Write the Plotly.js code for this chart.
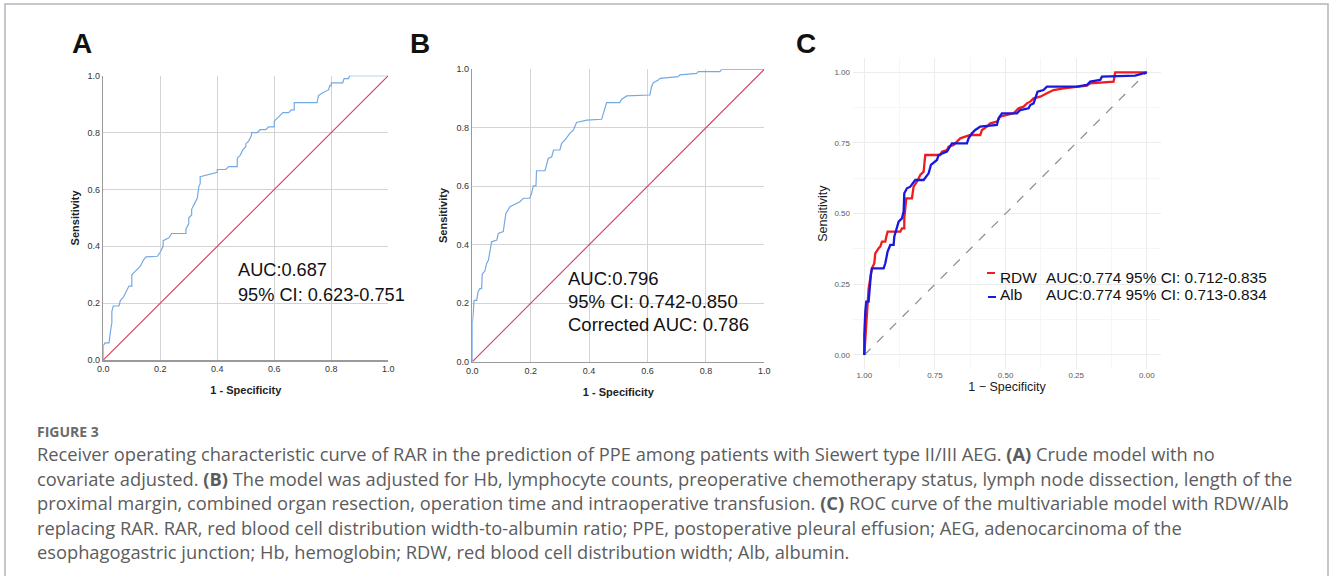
<!DOCTYPE html>
<html><head><meta charset="utf-8">
<script src="https://cdn.plot.ly/plotly-3.0.1.min.js"></script>
<style>html,body{margin:0;padding:0;background:#fff}#fig{width:1330px;height:576px}</style>
</head><body><div id="fig"></div>
<script>
// ---------- Data ----------
// Panel A: crude model ROC (1 - specificity, sensitivity)
const fprA = [0,0,0.006,0.02,0.025,0.03,0.03,0.035,0.055,0.06,0.07,0.08,0.09,0.10,0.10,0.11,0.12,0.13,0.14,0.15,0.19,0.20,0.21,0.21,0.23,0.24,0.29,0.29,0.30,0.30,0.31,0.31,0.32,0.33,0.335,0.34,0.34,0.36,0.37,0.40,0.40,0.43,0.44,0.47,0.47,0.48,0.49,0.50,0.50,0.51,0.52,0.52,0.54,0.55,0.57,0.58,0.60,0.60,0.61,0.62,0.63,0.65,0.66,0.67,0.67,0.75,0.755,0.77,0.79,0.795,0.80,0.80,0.84,0.845,0.86,0.865,1];
const tprA = [0,0.05,0.06,0.06,0.10,0.13,0.17,0.19,0.19,0.21,0.22,0.24,0.26,0.26,0.30,0.31,0.32,0.33,0.35,0.363,0.365,0.38,0.40,0.42,0.43,0.445,0.445,0.46,0.48,0.50,0.51,0.53,0.55,0.57,0.61,0.62,0.645,0.65,0.655,0.66,0.67,0.67,0.68,0.68,0.71,0.72,0.74,0.75,0.76,0.77,0.79,0.80,0.80,0.81,0.81,0.82,0.82,0.84,0.85,0.86,0.87,0.87,0.88,0.88,0.905,0.905,0.93,0.94,0.95,0.965,0.965,0.975,0.975,0.99,0.99,1.0,1.0];
// Panel B: adjusted model ROC
const fprB = [0,0,0.003,0.006,0.015,0.02,0.026,0.032,0.034,0.043,0.049,0.055,0.061,0.066,0.084,0.089,0.106,0.115,0.129,0.14,0.163,0.175,0.197,0.203,0.209,0.218,0.22,0.249,0.255,0.26,0.272,0.278,0.30,0.306,0.317,0.334,0.346,0.357,0.392,0.443,0.449,0.46,0.505,0.511,0.529,0.608,0.614,0.62,0.637,0.643,0.705,0.711,0.768,0.774,0.848,0.854,1];
const tprB = [0,0.13,0.165,0.21,0.21,0.24,0.25,0.25,0.30,0.31,0.336,0.347,0.38,0.41,0.416,0.439,0.445,0.507,0.53,0.536,0.547,0.559,0.559,0.576,0.601,0.601,0.653,0.653,0.673,0.695,0.701,0.724,0.724,0.747,0.758,0.781,0.792,0.818,0.826,0.829,0.849,0.886,0.886,0.897,0.909,0.912,0.941,0.954,0.963,0.969,0.975,0.981,0.986,0.992,0.992,1.0,1.0];
// Panel C: multivariable model with RDW / Alb (specificity, sensitivity)
const specRDW = [1,0.993,0.9906,0.9847,0.9788,0.9729,0.9646,0.9611,0.9493,0.9434,0.9375,0.9257,0.9222,0.9175,0.8726,0.8667,0.8585,0.8585,0.855,0.8514,0.8314,0.8255,0.8137,0.8019,0.7901,0.7842,0.7311,0.7252,0.7075,0.7017,0.684,0.6722,0.6604,0.6427,0.625,0.5896,0.5837,0.566,0.5542,0.5307,0.5189,0.4953,0.4717,0.454,0.4363,0.4245,0.4127,0.4009,0.3774,0.3538,0.3302,0.2948,0.2358,0.2123,0.2005,0.1651,0.1179,0.112,0.0472,0];
const sensRDW = [0,0.1179,0.1533,0.2358,0.2712,0.3066,0.3243,0.3597,0.3774,0.3833,0.4009,0.4009,0.4186,0.4363,0.4363,0.4481,0.4481,0.4835,0.5189,0.5542,0.5542,0.5955,0.6132,0.6368,0.6486,0.7075,0.7075,0.7193,0.7252,0.737,0.7429,0.7547,0.7665,0.7724,0.7783,0.7783,0.796,0.8078,0.8196,0.8255,0.8432,0.8491,0.855,0.8726,0.8785,0.8903,0.8962,0.908,0.9139,0.9257,0.9375,0.9434,0.9493,0.9528,0.9611,0.9646,0.967,1.0,1.0,1.0];
const specAlb = [1,1,0.9965,0.993,0.9847,0.9823,0.9788,0.9764,0.9729,0.9316,0.9257,0.9222,0.9175,0.908,0.8962,0.8939,0.8844,0.8785,0.8667,0.8608,0.8585,0.8491,0.8373,0.8196,0.7901,0.7724,0.7642,0.7429,0.737,0.7252,0.7075,0.6899,0.6368,0.6309,0.6191,0.6073,0.5896,0.5307,0.5248,0.513,0.4599,0.4481,0.4186,0.4127,0.4009,0.395,0.3868,0.3656,0.3538,0.2476,0.2358,0.2123,0.2005,0.1651,0.1592,0.0413,0];
const sensAlb = [0,0.0708,0.1533,0.1887,0.1887,0.2241,0.2594,0.2889,0.3066,0.3066,0.3243,0.3479,0.3656,0.3892,0.3892,0.4186,0.4481,0.4717,0.4835,0.5071,0.5719,0.5896,0.5955,0.6191,0.6191,0.6427,0.6722,0.6899,0.7075,0.7134,0.7193,0.7488,0.7488,0.7665,0.7842,0.796,0.8078,0.8137,0.8373,0.855,0.855,0.8667,0.8726,0.8844,0.8903,0.908,0.9316,0.9375,0.9493,0.9493,0.9517,0.9552,0.967,0.9729,0.9847,0.9882,1.0];
const refDiag = [0,1];
const refDiagRev = [1,0];
// Texts
const panelLetters = ["A","B","C"];
const textA = ["AUC:0.687","95% CI: 0.623-0.751"];
const textB = ["AUC:0.796","95% CI: 0.742-0.850","Corrected AUC: 0.786"];
const legendNames = ["RDW","Alb"];
const legendTexts = ["AUC:0.774 95% CI: 0.712-0.835","AUC:0.774 95% CI: 0.713-0.834"];
const ticksAB = [0,0.2,0.4,0.6,0.8,1.0];
const ticksC = [0,0.25,0.5,0.75,1.0];
const captionHead = "FIGURE 3";
const captionLines = [
 "Receiver operating characteristic curve of RAR in the prediction of PPE among patients with Siewert type II/III AEG. <b>(A)</b> Crude model with no",
 "covariate adjusted. <b>(B)</b> The model was adjusted for Hb, lymphocyte counts, preoperative chemotherapy status, lymph node dissection, length of the",
 "proximal margin, combined organ resection, operation time and intraoperative transfusion. <b>(C)</b> ROC curve of the multivariable model with RDW/Alb",
 "replacing RAR. RAR, red blood cell distribution width-to-albumin ratio; PPE, postoperative pleural effusion; AEG, adenocarcinoma of the",
 "esophagogastric junction; Hb, hemoglobin; RDW, red blood cell distribution width; Alb, albumin."
];

// ---------- Layout helpers ----------
const W = 1330, H = 576;
const PX = p => p / W;
const PY = p => 1 - p / H;

const blue = '#74a9e4', pink = '#d93a63';
const traces = [
  {x: fprA, y: tprA, xaxis:'x', yaxis:'y', mode:'lines', line:{color:blue, width:1.2}},
  {x: refDiag, y: refDiag, xaxis:'x', yaxis:'y', mode:'lines', line:{color:pink, width:1.1}},
  {x: fprB, y: tprB, xaxis:'x2', yaxis:'y2', mode:'lines', line:{color:blue, width:1.2}},
  {x: refDiag, y: refDiag, xaxis:'x2', yaxis:'y2', mode:'lines', line:{color:pink, width:1.1}},
  {x: refDiagRev, y: refDiag, xaxis:'x3', yaxis:'y3', mode:'lines', line:{color:'#8c8c8c', width:1.2, dash:'dash'}},
  {x: specRDW, y: sensRDW, xaxis:'x3', yaxis:'y3', mode:'lines', line:{color:'#ee1c1c', width:2.3}},
  {x: specAlb, y: sensAlb, xaxis:'x3', yaxis:'y3', mode:'lines', line:{color:'#1818e0', width:2.3}}
];

function spssX(dom, anchor){
  return {domain:dom, anchor:anchor, range:[0,1], tickvals:ticksAB, tickformat:'.1f',
    showgrid:true, gridcolor:'#d4d4d4', gridwidth:1, zeroline:false,
    showline:true, linecolor:'#9a9a9a', linewidth:1.5, ticks:'', fixedrange:true,
    tickfont:{family:'Arial', size:9, color:'#333'},
    title:{text:'<b>1 - Specificity</b>', font:{family:'Arial', size:11, color:'#222'}, standoff:13}};
}
function spssY(dom, anchor, so){
  return {domain:dom, anchor:anchor, range:[0,1], tickvals:ticksAB, tickformat:'.1f',
    showgrid:true, gridcolor:'#d4d4d4', gridwidth:1, zeroline:false,
    showline:true, linecolor:'#9a9a9a', linewidth:1.5, ticks:'', fixedrange:true,
    tickfont:{family:'Arial', size:9, color:'#333'},
    title:{text:'<b>Sensitivity</b>', font:{family:'Arial', size:11, color:'#222'}, standoff:so}};
}

const layout = {
  width:W, height:H, margin:{l:0,r:0,t:0,b:0}, showlegend:false,
  paper_bgcolor:'#fff', plot_bgcolor:'#fff',
  xaxis: spssX([PX(103.3), PX(388.3)], 'y'),
  yaxis: spssY([PY(360), PY(75.7)], 'x', 5),
  xaxis2: spssX([PX(472.3), PX(764.3)], 'y2'),
  yaxis2: spssY([PY(361.7), PY(69.3)], 'x2', 6),
  xaxis3: {domain:[PX(853), PX(1161)], anchor:'y3', range:[1.04,-0.05], tickvals:ticksC, tickformat:'.2f',
    showgrid:true, gridcolor:'#ececec', gridwidth:1, zeroline:false, showline:false, ticks:'',
    minor:{dtick:0.125, tick0:0, showgrid:true, gridcolor:'#f6f6f6', gridwidth:1},
    tickfont:{family:'Arial', size:8, color:'#5a5a5a'},
    title:{text:'1 \u2212 Specificity', font:{family:'Arial', size:12.5, color:'#1a1a1a'}, standoff:1}},
  yaxis3: {domain:[PY(369.1), PY(58.2)], anchor:'x3', range:[-0.05,1.05], tickvals:ticksC, tickformat:'.2f',
    showgrid:true, gridcolor:'#ececec', gridwidth:1, zeroline:false, showline:false, ticks:'',
    minor:{dtick:0.125, tick0:0, showgrid:true, gridcolor:'#f6f6f6', gridwidth:1},
    tickfont:{family:'Arial', size:8, color:'#5a5a5a'}, ticklabelstandoff:2,
    title:{text:'Sensitivity', font:{family:'Arial', size:12.5, color:'#1a1a1a'}, standoff:4}},
  shapes: [
    {type:'rect', xref:'paper', yref:'paper', x0:PX(5), x1:PX(1328), y0:-0.05, y1:PY(4),
      line:{color:'#b4b4bc', width:1.5}, fillcolor:'rgba(0,0,0,0)', layer:'below'},
    {type:'line', xref:'paper', yref:'paper', x0:PX(987), x1:PX(995), y0:PY(273), y1:PY(273), line:{color:'#ee1c1c', width:2}},
    {type:'line', xref:'paper', yref:'paper', x0:PX(988), x1:PX(996), y0:PY(297), y1:PY(297), line:{color:'#1818e0', width:2}}
  ],
  annotations: []
};

const A = layout.annotations;
const letterPos = [[82,44],[420,44],[806,44]];
panelLetters.forEach((t,i)=>A.push({text:'<b>'+t+'</b>', xref:'paper', yref:'paper', x:PX(letterPos[i][0]), y:PY(letterPos[i][1]),
  xanchor:'center', yanchor:'middle', showarrow:false, font:{family:'Arial', size:28, color:'#111'}}));
const aY = [270, 295];
textA.forEach((t,i)=>A.push({text:t, xref:'paper', yref:'paper', x:PX(236), y:PY(aY[i]), xanchor:'left', yanchor:'middle',
  showarrow:false, font:{family:'Arial', size:18.2, color:'#111'}}));
const bY = [278, 301, 324];
textB.forEach((t,i)=>A.push({text:t, xref:'paper', yref:'paper', x:PX(566), y:PY(bY[i]), xanchor:'left', yanchor:'middle',
  showarrow:false, font:{family:'Arial', size:18.5, color:'#111'}}));
const lY = [277, 294];
legendNames.forEach((t,i)=>{
  A.push({text:t, xref:'paper', yref:'paper', x:PX(998), y:PY(lY[i]), xanchor:'left', yanchor:'middle', showarrow:false,
    font:{family:'Arial', size:15.4, color:'#111'}});
  A.push({text:legendTexts[i], xref:'paper', yref:'paper', x:PX(1044), y:PY(lY[i]), xanchor:'left', yanchor:'middle', showarrow:false,
    font:{family:'Arial', size:15.4, color:'#111'}});
});
A.push({text:'<b>'+captionHead+'</b>', xref:'paper', yref:'paper', x:PX(35), y:PY(431), xanchor:'left', yanchor:'middle',
  showarrow:false, font:{family:'Open Sans', size:14, color:'#6a6a6a'}});
const capY = [453, 478, 502, 527, 551];
captionLines.forEach((t,i)=>A.push({text:t, xref:'paper', yref:'paper', x:PX(35), y:PY(capY[i]), xanchor:'left', yanchor:'middle',
  showarrow:false, font:{family:'Open Sans', size:18.3, color:'#5c5c5c'}}));

Plotly.newPlot('fig', traces, layout, {staticPlot:true, displayModeBar:false});
</script></body></html>
